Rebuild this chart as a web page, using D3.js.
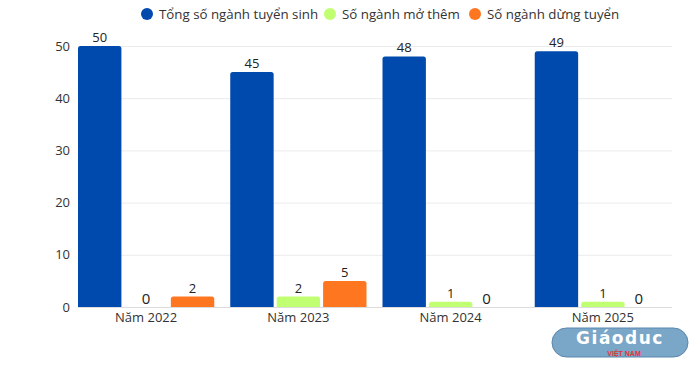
<!DOCTYPE html>
<html>
<head>
<meta charset="utf-8">
<script src="https://cdn.jsdelivr.net/npm/d3@7"></script>
<style>
  body { margin: 0; background: #fff; }
  svg { font-family: "Open Sans", "Noto Sans", sans-serif; }
</style>
</head>
<body>
<svg width="700" height="370"></svg>
<script>
var categories = ["Năm 2022", "Năm 2023", "Năm 2024", "Năm 2025"];
var seriesNames = ["Tổng số ngành tuyển sinh", "Số ngành mở thêm", "Số ngành dừng tuyển"];
var tongSo = [50, 45, 48, 49];
var moThem = [0, 2, 1, 1];
var dungTuyen = [2, 5, 0, 0];
var yTicks = [0, 10, 20, 30, 40, 50];
var colors = ["#004aad", "#c1ff72", "#ff7620"];

var series = [tongSo, moThem, dungTuyen];
var svg = d3.select("svg");

var x0 = d3.scaleBand().domain(categories).range([78, 671]).paddingInner(0.105).paddingOuter(0);
var x1 = d3.scaleBand().domain(d3.range(3)).range([0, x0.bandwidth()]).paddingInner(0.065);
var y = d3.scaleLinear().domain([0, 50]).range([307, 46]);

// grid
svg.append("g").selectAll("line").data(yTicks).enter().append("line")
  .attr("x1", 78).attr("x2", 672)
  .attr("y1", function(d){ return y(d) + 0.5; })
  .attr("y2", function(d){ return y(d) + 0.5; })
  .attr("stroke", function(d){ return d === 0 ? "#dcdcdc" : "#ebebeb"; })
  .attr("stroke-width", 1);

// y axis labels
var yAxis = svg.append("g").attr("transform", "translate(70,0)")
  .call(d3.axisLeft(y).tickValues(yTicks).tickSize(0).tickPadding(0));
yAxis.select(".domain").remove();
yAxis.selectAll("text").attr("font-size", 13).attr("fill", "#333")
  .attr("font-family", "'Open Sans', sans-serif");

// x axis labels
var xAxis = svg.append("g").attr("transform", "translate(0,313)")
  .call(d3.axisBottom(x0).tickSize(0).tickPadding(0));
xAxis.select(".domain").remove();
xAxis.selectAll("text").attr("font-size", 13).attr("fill", "#333")
  .attr("font-family", "'Open Sans', sans-serif");

// bars
var rows = [];
categories.forEach(function(c, i){
  series.forEach(function(s, j){
    rows.push({cat: c, s: j, v: s[i]});
  });
});

function barPath(x, yTop, w, h, r) {
  if (h <= 0) return "";
  r = Math.min(r, h, w / 2);
  return "M" + x + "," + (yTop + h) +
    "V" + (yTop + r) + "Q" + x + "," + yTop + " " + (x + r) + "," + yTop +
    "H" + (x + w - r) + "Q" + (x + w) + "," + yTop + " " + (x + w) + "," + (yTop + r) +
    "V" + (yTop + h) + "Z";
}

svg.append("g").selectAll("path").data(rows).enter().append("path")
  .attr("d", function(d){
    var bx = x0(d.cat) + x1(d.s);
    return barPath(bx, y(d.v), x1.bandwidth(), y(0) - y(d.v), 2.5);
  })
  .attr("fill", function(d){ return colors[d.s]; });

// value labels
svg.append("g").selectAll("text").data(rows).enter().append("text")
  .attr("x", function(d){
    var bx = x0(d.cat) + x1(d.s);
    if (d.v === 0 && d.s === 2) return bx + 7;
    return bx + x1.bandwidth() / 2;
  })
  .attr("y", function(d){ return d.v === 0 ? y(0) - 3 : y(d.v) - 4; })
  .attr("text-anchor", function(d){ return d.v === 0 && d.s === 2 ? "start" : "middle"; })
  .attr("font-size", function(d){ return d.v === 0 ? 15 : 13; })
  .attr("fill", "#222")
  .text(function(d){ return d.v; });

// legend
var legendX = [147, 330, 475];
var lg = svg.append("g").selectAll("g").data(seriesNames).enter().append("g")
  .attr("transform", function(d, i){ return "translate(" + legendX[i] + ",14)"; });
lg.append("circle").attr("r", 6).attr("fill", function(d, i){ return colors[i]; });
lg.append("text").attr("x", 12).attr("y", 4.5).attr("font-size", 13.3).attr("fill", "#333")
  .text(function(d){ return d; });

// watermark
var wm = svg.append("g").attr("transform", "translate(552,328)");
wm.append("rect").attr("width", 136).attr("height", 29).attr("rx", 14.5)
  .attr("fill", "#7aa6c8").attr("stroke", "#5b87ad").attr("stroke-width", 1);
wm.append("text").attr("x", 68).attr("y", 16).attr("text-anchor", "middle")
  .attr("font-size", 17).attr("font-weight", "bold").attr("fill", "#fff")
  .attr("font-family", "'DejaVu Sans', sans-serif").attr("letter-spacing", 1.5)
  .text("Giáoduc");
wm.append("text").attr("x", 72).attr("y", 27.5).attr("text-anchor", "middle")
  .attr("font-size", 7).attr("font-weight", "bold").attr("fill", "#e8303a")
  .attr("font-family", "'Liberation Sans', sans-serif")
  .text("VIỆT NAM");
</script>
</body>
</html>
